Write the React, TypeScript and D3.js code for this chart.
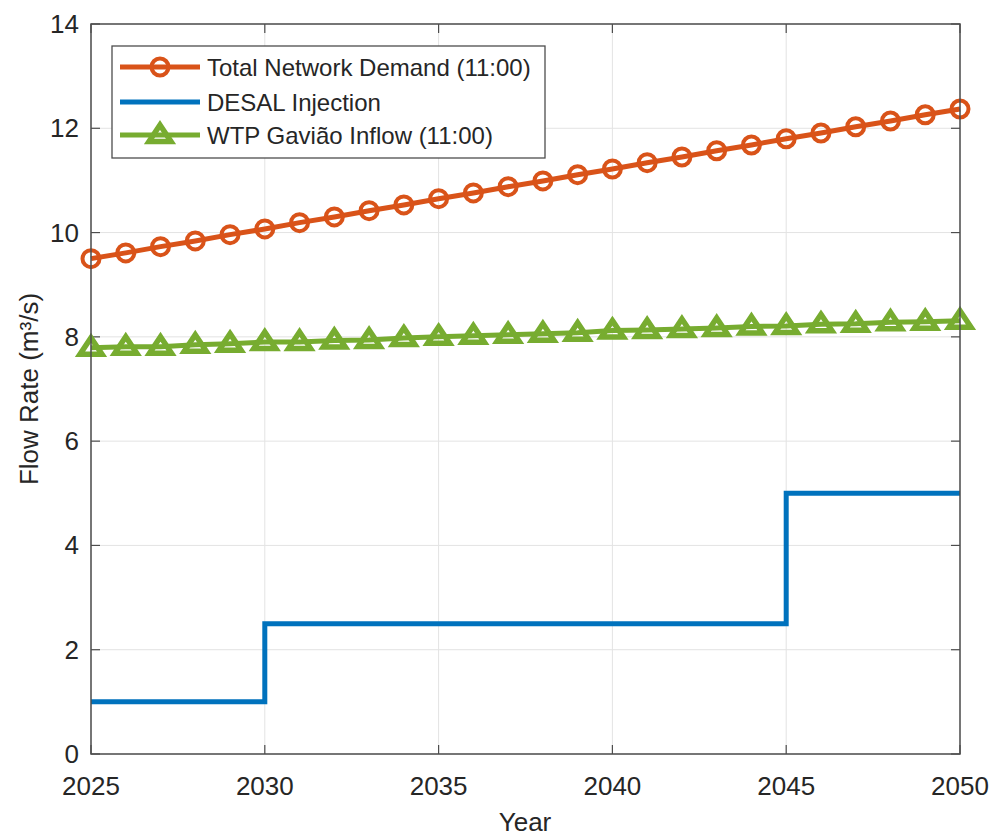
import React from "react";
import * as d3 from "d3";

const years = [2025, 2026, 2027, 2028, 2029, 2030, 2031, 2032, 2033, 2034, 2035, 2036, 2037, 2038, 2039, 2040, 2041, 2042, 2043, 2044, 2045, 2046, 2047, 2048, 2049, 2050];
const totalDemand = [9.5, 9.61, 9.73, 9.84, 9.96, 10.07, 10.19, 10.3, 10.42, 10.53, 10.65, 10.76, 10.88, 10.99, 11.11, 11.22, 11.34, 11.45, 11.57, 11.68, 11.8, 11.91, 12.03, 12.14, 12.26, 12.37];
const desalInjection = [1, 1, 1, 1, 1, 2.5, 2.5, 2.5, 2.5, 2.5, 2.5, 2.5, 2.5, 2.5, 2.5, 2.5, 2.5, 2.5, 2.5, 2.5, 5, 5, 5, 5, 5, 5];
const wtpInflow = [7.79, 7.81, 7.81, 7.85, 7.87, 7.9, 7.9, 7.93, 7.94, 7.98, 8.0, 8.02, 8.04, 8.06, 8.08, 8.12, 8.13, 8.15, 8.17, 8.2, 8.21, 8.24, 8.25, 8.28, 8.29, 8.31];
const xTicks = [2025, 2030, 2035, 2040, 2045, 2050];
const yTicks = [0, 2, 4, 6, 8, 10, 12, 14];
const legendLabels = ["Total Network Demand (11:00)", "DESAL Injection", "WTP Gavião Inflow (11:00)"];

const ORANGE = "#D95319";
const BLUE = "#0072BD";
const GREEN = "#77AC30";
const AXIS = "#4d4d4d";
const FONT = "'Liberation Sans', Arial, Helvetica, sans-serif";

export default function App() {
  const W = 994, H = 839;
  const L = 91, R = 960, T = 24, B = 754;
  const x = d3.scaleLinear().domain([2025, 2050]).range([L, R]);
  const y = d3.scaleLinear().domain([0, 14]).range([B, T]);

  const line = d3.line<number>().x((_, i) => x(years[i])).y((d) => y(d));
  const stepLine = d3.line<number>().x((_, i) => x(years[i])).y((d) => y(d)).curve(d3.curveStepAfter);

  const tri = (cx: number, cy: number, s = 10) =>
    `M${cx},${cy - s} L${cx + s * 1.1},${cy + s * 0.65} L${cx - s * 1.1},${cy + s * 0.65} Z`;

  const tickLen = 9;
  const legX = 112, legY = 46, legW = 433, legH = 112;
  const rowY = [67, 102, 135];

  return (
    <svg width={W} height={H} style={{ display: "block", position: "absolute", left: 0, top: 0 }} fontFamily={FONT}>
      <rect x={0} y={0} width={W} height={H} fill="#fff" />
      {/* grid */}
      {xTicks.map((t) => (
        <line key={"gx" + t} x1={x(t)} x2={x(t)} y1={T} y2={B} stroke="#e3e3e3" strokeWidth={1} />
      ))}
      {yTicks.map((t) => (
        <line key={"gy" + t} x1={L} x2={R} y1={y(t)} y2={y(t)} stroke="#e3e3e3" strokeWidth={1} />
      ))}
      {/* ticks */}
      {xTicks.map((t) => (
        <g key={"tx" + t}>
          <line x1={x(t)} x2={x(t)} y1={B} y2={B - tickLen} stroke={AXIS} strokeWidth={1.2} />
          <line x1={x(t)} x2={x(t)} y1={T} y2={T + tickLen} stroke={AXIS} strokeWidth={1.2} />
          <text x={x(t)} y={795} textAnchor="middle" fontSize={26} fill="#262626">{t}</text>
        </g>
      ))}
      {yTicks.map((t) => (
        <g key={"ty" + t}>
          <line x1={L} x2={L + tickLen} y1={y(t)} y2={y(t)} stroke={AXIS} strokeWidth={1.2} />
          <line x1={R} x2={R - tickLen} y1={y(t)} y2={y(t)} stroke={AXIS} strokeWidth={1.2} />
          <text x={79} y={y(t) + 9} textAnchor="end" fontSize={26} fill="#262626">{t}</text>
        </g>
      ))}
      {/* series */}
      <path d={stepLine(desalInjection) || ""} fill="none" stroke={BLUE} strokeWidth={5} />
      <path d={line(wtpInflow) || ""} fill="none" stroke={GREEN} strokeWidth={5} />
      {wtpInflow.map((v, i) => (
        <path key={"t" + i} d={tri(x(years[i]), y(v))} fill="none" stroke={GREEN} strokeWidth={5.5} strokeLinejoin="miter" />
      ))}
      <path d={line(totalDemand) || ""} fill="none" stroke={ORANGE} strokeWidth={5} />
      {totalDemand.map((v, i) => (
        <circle key={"c" + i} cx={x(years[i])} cy={y(v)} r={8.5} fill="none" stroke={ORANGE} strokeWidth={4} />
      ))}
      {/* axes box */}
      <rect x={L} y={T} width={R - L} height={B - T} fill="none" stroke={AXIS} strokeWidth={1.5} />
      {/* legend */}
      <rect x={legX} y={legY} width={legW} height={legH} fill="#fff" stroke={AXIS} strokeWidth={1.3} />
      <line x1={120} x2={200} y1={rowY[0]} y2={rowY[0]} stroke={ORANGE} strokeWidth={5} />
      <circle cx={160} cy={rowY[0]} r={8.5} fill="none" stroke={ORANGE} strokeWidth={4} />
      <line x1={120} x2={200} y1={rowY[1]} y2={rowY[1]} stroke={BLUE} strokeWidth={5} />
      <line x1={120} x2={200} y1={rowY[2]} y2={rowY[2]} stroke={GREEN} strokeWidth={5} />
      <path d={tri(160, rowY[2])} fill="none" stroke={GREEN} strokeWidth={5.5} />
      {legendLabels.map((l, i) => (
        <text key={l} x={207} y={rowY[i] + 8.5} fontSize={24} fill="#262626">{l}</text>
      ))}
      {/* axis labels */}
      <text x={525} y={831} textAnchor="middle" fontSize={26} fill="#262626">Year</text>
      <text transform={`translate(38,${(T + B) / 2}) rotate(-90)`} textAnchor="middle" fontSize={26} fill="#262626">Flow Rate (m³/s)</text>
    </svg>
  );
}
